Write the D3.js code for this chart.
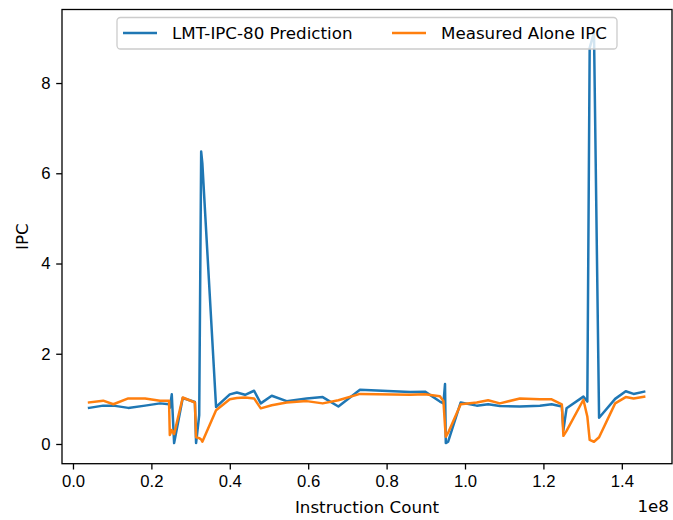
<!DOCTYPE html>
<html>
<head>
<meta charset="utf-8">
<script src="https://cdn.jsdelivr.net/npm/d3@7"></script>
<style>
  body { margin: 0; background: #fff; }
  svg { font-family: "DejaVu Sans", sans-serif; }
</style>
</head>
<body>
<div class="ipc_chart"></div>
<script>
// instruction count (in units of 1e8), shared by both series
const instr = [0.041, 0.077, 0.103, 0.141, 0.184, 0.222, 0.245, 0.247, 0.252, 0.258,
  0.280, 0.311, 0.314, 0.322, 0.327, 0.330, 0.365, 0.400, 0.418, 0.439,
  0.462, 0.479, 0.507, 0.545, 0.596, 0.637, 0.677, 0.732, 0.860, 0.898,
  0.936, 0.945, 0.949, 0.951, 0.957, 0.989, 1.030, 1.059, 1.089, 1.140,
  1.191, 1.221, 1.247, 1.251, 1.259, 1.302, 1.312, 1.318, 1.329, 1.342,
  1.383, 1.410, 1.430, 1.457];

const predicted = [0.80, 0.85, 0.85, 0.80, 0.85, 0.90, 0.88, 0.80, 1.10, 0.02,
  1.02, 0.93, 0.02, 0.64, 6.48, 6.22, 0.82, 1.10, 1.14, 1.09,
  1.18, 0.90, 1.07, 0.95, 1.01, 1.04, 0.83, 1.20, 1.15, 1.16,
  0.94, 0.90, 1.33, 0.02, 0.05, 0.92, 0.85, 0.88, 0.84, 0.83,
  0.85, 0.88, 0.83, 0.31, 0.79, 1.05, 0.94, 8.78, 9.12, 0.58,
  1.00, 1.17, 1.11, 1.16];

const measured = [0.92, 0.96, 0.88, 1.01, 1.01, 0.96, 0.96, 0.20, 0.31, 0.22,
  1.03, 0.92, 0.15, 0.13, 0.10, 0.05, 0.75, 0.99, 1.02, 1.03,
  1.01, 0.79, 0.86, 0.92, 0.95, 0.90, 0.97, 1.11, 1.09, 1.10,
  1.06, 0.95, 0.40, 0.16, 0.25, 0.88, 0.92, 0.97, 0.90, 1.01,
  0.99, 0.99, 0.88, 0.18, 0.29, 0.98, 0.61, 0.09, 0.05, 0.15,
  0.90, 1.04, 1.01, 1.05];

const seriesNames = ["LMT-IPC-80 Prediction", "Measured Alone IPC"];
const xTicks = [0.0, 0.2, 0.4, 0.6, 0.8, 1.0, 1.2, 1.4];
const yTicks = [0, 2, 4, 6, 8];

const W = 673, H = 520;
const plot = {left: 62, right: 672, top: 9.5, bottom: 463.7};
const colors = ["#1f77b4", "#ff7f0e"];
const fontSize = "16.7px";

const svg = d3.select(".ipc_chart")
  .append("svg")
  .attr("width", W)
  .attr("height", H);

const x = d3.scaleLinear()
  .domain([-0.028, 1.528])
  .range([plot.left, plot.right]);

const y = d3.scaleLinear()
  .domain([-0.437, 9.63])
  .range([plot.bottom, plot.top]);

// clip the lines to the axes box
svg.append("clipPath")
  .attr("id", "clip")
  .append("rect")
  .attr("x", plot.left)
  .attr("y", plot.top)
  .attr("width", plot.right - plot.left)
  .attr("height", plot.bottom - plot.top);

const line = d3.line()
  .x(d => x(d[0]))
  .y(d => y(d[1]));

[predicted, measured].forEach((vals, i) => {
  svg.append("path")
    .datum(instr.map((v, j) => [v, vals[j]]))
    .attr("clip-path", "url(#clip)")
    .attr("d", line)
    .attr("fill", "none")
    .attr("stroke", colors[i])
    .attr("stroke-width", 2.5)
    .attr("stroke-linejoin", "round")
    .attr("stroke-linecap", "square");
});

// x axis
const xAxis = svg.append("g")
  .attr("transform", `translate(0,${plot.bottom})`)
  .call(d3.axisBottom(x).tickValues(xTicks).tickFormat(d3.format(".1f")).tickSize(5.8).tickPadding(5.8));

// y axis
const yAxis = svg.append("g")
  .attr("transform", `translate(${plot.left},0)`)
  .call(d3.axisLeft(y).tickValues(yTicks).tickFormat(d3.format("d")).tickSize(5.8).tickPadding(5.8));

[xAxis, yAxis].forEach(g => {
  g.select(".domain").remove();
  g.selectAll("line").attr("stroke", "#000").attr("stroke-width", 1.3);
  g.selectAll("text").attr("fill", "#000").style("font-size", fontSize);
});

// frame
svg.append("rect")
  .attr("x", plot.left)
  .attr("y", plot.top)
  .attr("width", plot.right - plot.left)
  .attr("height", plot.bottom - plot.top)
  .attr("fill", "none")
  .attr("stroke", "#000")
  .attr("stroke-width", 1.3);

// axis labels
svg.append("text")
  .attr("x", (plot.left + plot.right) / 2)
  .attr("y", 513)
  .attr("text-anchor", "middle")
  .style("font-size", fontSize)
  .text("Instruction Count");

svg.append("text")
  .attr("transform", `translate(28,${(plot.top + plot.bottom) / 2}) rotate(-90)`)
  .attr("text-anchor", "middle")
  .style("font-size", fontSize)
  .text("IPC");

svg.append("text")
  .attr("x", 669)
  .attr("y", 512)
  .attr("text-anchor", "end")
  .style("font-size", fontSize)
  .text("1e8");

// legend
const legend = svg.append("g");
legend.append("rect")
  .attr("x", 117)
  .attr("y", 17.5)
  .attr("width", 500)
  .attr("height", 31.5)
  .attr("rx", 3.5)
  .attr("fill", "#fff")
  .attr("fill-opacity", 0.8)
  .attr("stroke", "#cccccc")
  .attr("stroke-width", 1.3);

const legendX = [123, 392];
seriesNames.forEach((name, i) => {
  legend.append("line")
    .attr("x1", legendX[i])
    .attr("x2", legendX[i] + 34)
    .attr("y1", 33)
    .attr("y2", 33)
    .attr("stroke", colors[i])
    .attr("stroke-width", 2.5);
  legend.append("text")
    .attr("x", legendX[i] + 49)
    .attr("y", 39)
    .style("font-size", fontSize)
    .text(name);
});
</script>
</body>
</html>
